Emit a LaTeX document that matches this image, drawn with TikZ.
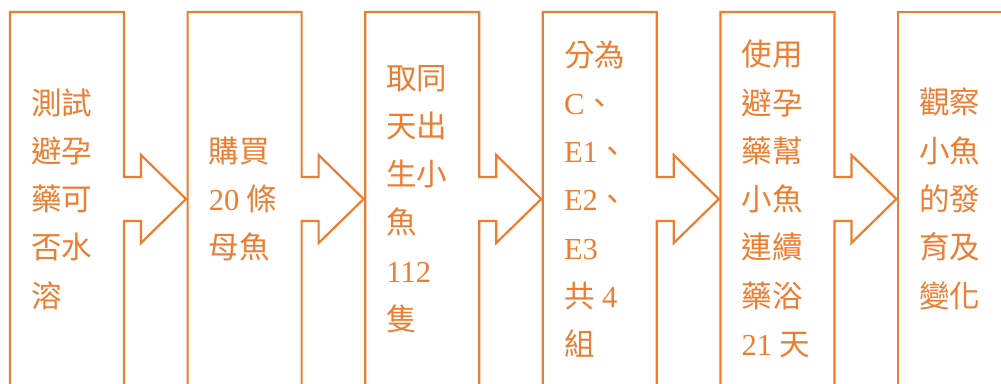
\documentclass[tikz,border=0pt]{standalone}
\usepackage{fontspec}
\setmainfont{Liberation Serif}
\newfontfamily\cjk{Noto Sans CJK TC}
\definecolor{orng}{HTML}{ED7D31}
\tikzset{
  boxline/.style={draw=orng, line width=2.2pt, line join=miter},
  txt/.style={anchor=west, inner sep=0pt, align=left, text=orng,
    font=\fontsize{30.5}{48.3}\selectfont},
}
\begin{document}
\begin{tikzpicture}[x=1pt,y=-1pt]
\useasboundingbox (0,0) rectangle (1001,383);
\clip (0,0) rectangle (1001,383);
% boxes with arrow on the right
\foreach \L in {10,187.6,365.2,542.8,720.4}{
  \pgfmathsetmacro{\R}{\L+114}
  \draw[boxline] (\L,400) -- (\L,12) -- (\R,12) -- (\R,177) -- (\R+17,177)
    -- (\R+17,155) -- (\R+62,199) -- (\R+17,243) -- (\R+17,221)
    -- (\R,221) -- (\R,400);
}
\draw[boxline] (898,400) -- (898,12) -- (1010,12);
% texts
\node[txt] (t1) at (31,199) {\cjk 測試\\\cjk 避孕\\\cjk 藥可\\\cjk 否水\\\cjk 溶};
\node[txt] (t2) at (208.6,199) {\cjk 購買\\20 {\cjk 條}\\\cjk 母魚};
\node[txt] (t3) at (386.2,199) {\cjk 取同\\\cjk 天出\\\cjk 生小\\\cjk 魚\\112\\\cjk 隻};
\node[txt] (t4) at (563.8,199) {\cjk 分為\\C{\cjk 、}\\E1{\cjk 、}\\E2{\cjk 、}\\E3\\{\cjk 共} 4\\\cjk 組};
\node[txt] (t5) at (741.4,199) {\cjk 使用\\\cjk 避孕\\\cjk 藥幫\\\cjk 小魚\\\cjk 連續\\\cjk 藥浴\\21 {\cjk 天}};
\node[txt] (t6) at (919,199) {\cjk 觀察\\\cjk 小魚\\\cjk 的發\\\cjk 育及\\\cjk 變化};
\end{tikzpicture}
\end{document}
